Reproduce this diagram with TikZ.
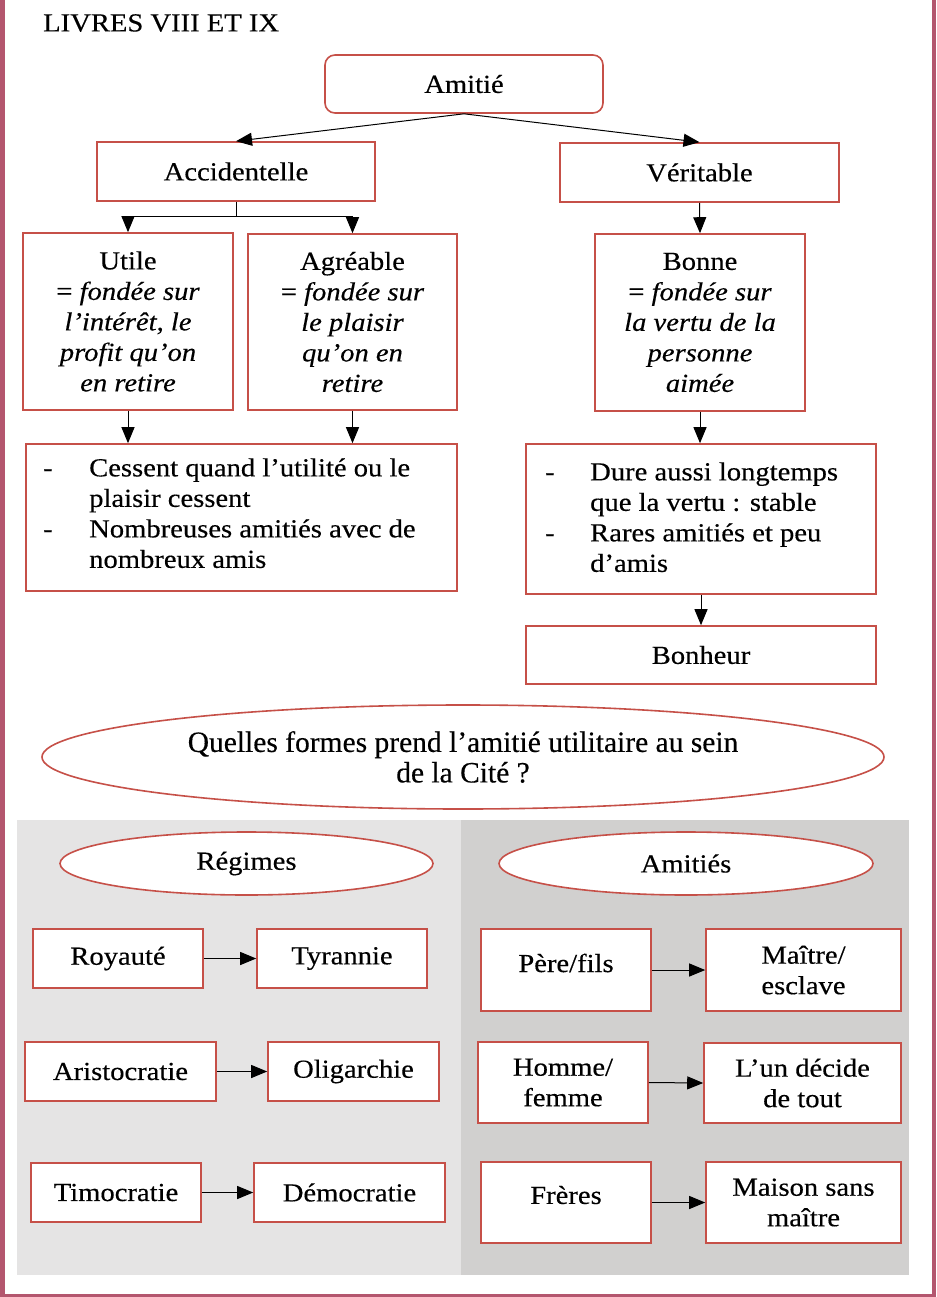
\documentclass[tikz,border=0pt]{standalone}
\usepackage{fontspec}
\setmainfont{Liberation Serif}[FakeStretch=1.1,FakeBold=0.35]
\newfontfamily\qfont{Liberation Serif}[FakeBold=0.35]
\usetikzlibrary{arrows.meta,shapes.geometric}
\definecolor{boxred}{RGB}{198,80,72}
\definecolor{framecol}{RGB}{180,86,110}
\definecolor{panelL}{RGB}{229,228,228}
\definecolor{panelR}{RGB}{209,208,207}
\begin{document}
\begin{tikzpicture}[x=1pt,y=-1pt,
  box/.style={draw=boxred,line width=1.6pt,fill=white,inner sep=0pt,align=center,font=\fontsize{26}{30.5}\selectfont},
  oval/.style={ellipse,draw=boxred,line width=1.6pt,fill=white,inner sep=0pt,align=center,font=\fontsize{26}{30.5}\selectfont},
  txt/.style={inner sep=0pt,align=center,font=\fontsize{26}{30.5}\selectfont},
  arr/.style={-{Triangle[length=16pt,width=13pt]},line width=1pt,black}]
\useasboundingbox (0,0) rectangle (936,1297);
\fill[white] (0,0) rectangle (936,1297);
% frame
\draw[framecol,line width=5pt] (2.5,0) -- (2.5,1297);
\draw[framecol,line width=3.5pt] (934.2,0) -- (934.2,1297);
\draw[framecol,line width=3pt] (0,1295.5) -- (936,1295.5);
% title
\node[txt,anchor=west] (title) at (43,23) {LIVRES VIII ET IX};
% top tree
\node[box,rounded corners=10pt,minimum width=278pt,minimum height=58pt] (amitie) at (464,84) {Amitié};
\node[box,minimum width=278pt,minimum height=59pt] (acc) at (236,171.5) {Accidentelle};
\node[box,minimum width=279pt,minimum height=59pt] (ver) at (699.5,172.5) {Véritable};
\node[box,minimum width=210pt,minimum height=177pt] (utile) at (128,321.5)
  {Utile\\= \textit{fondée sur}\\\textit{l’intérêt, le}\\\textit{profit qu’on}\\\textit{en retire}};
\node[box,minimum width=209pt,minimum height=176pt] (agr) at (352.5,322)
  {Agréable\\= \textit{fondée sur}\\\textit{le plaisir}\\\textit{qu’on en}\\\textit{retire}};
\node[box,minimum width=210pt,minimum height=177pt] (bonne) at (700,322.5)
  {Bonne\\= \textit{fondée sur}\\\textit{la vertu de la}\\\textit{personne}\\\textit{aimée}};
\node[box,minimum width=431pt,minimum height=147pt] (cess) at (241.5,517.5) {};
\node[txt,anchor=west,align=left] (cesst) at (43,516)
  {\begin{tabular}{@{}p{46pt}@{}l@{}}-&Cessent quand l’utilité ou le\\&plaisir cessent\\-&Nombreuses amitiés avec de\\&nombreux amis\end{tabular}};
\node[box,minimum width=350pt,minimum height=150pt] (dure) at (701,519) {};
\node[txt,anchor=west,align=left] (duret) at (545,520)
  {\begin{tabular}{@{}p{45pt}@{}l@{}}-&Dure aussi longtemps\\&que la vertu : stable\\-&Rares amitiés et peu\\&d’amis\end{tabular}};
\node[box,minimum width=350pt,minimum height=58pt] (bonheur) at (701,655) {Bonheur};
\draw[arr] (amitie.south) -- (acc.north);
\draw[arr] (amitie.south) -- (ver.north);
\draw[line width=1pt] (acc.south) -- ++(0,15) coordinate (accj);
\draw[arr] (accj) -| (utile.north);
\draw[arr] (accj) -| (agr.north);
\draw[arr] (utile.south) -- (utile.south |- cess.north);
\draw[arr] (agr.south) -- (agr.south |- cess.north);
\draw[arr] (ver.south) -- (bonne.north);
\draw[arr] (bonne.south) -- (bonne.south |- dure.north);
\draw[arr] (dure.south) -- (bonheur.north);
% question
\node[oval,minimum width=842pt,minimum height=104pt,font=\qfont\fontsize{29.5}{30.5}\selectfont] (quest) at (463,757)
  {Quelles formes prend l’amitié utilitaire au sein\\de la Cité ?};
% panels
\fill[panelL] (17,820) rectangle (461,1275);
\fill[panelR] (461,820) rectangle (909,1275);
\node[oval,minimum width=373pt,minimum height=63pt] (regimes) at (246.5,863.5) {Régimes};
\node[oval,minimum width=374pt,minimum height=63pt] (amities) at (686,863.5) {Amitiés};
% left boxes
\node[box,minimum width=170pt,minimum height=59pt] (roy) at (118,958.5) {Royauté};
\node[box,minimum width=170pt,minimum height=59pt] (tyr) at (342,958.5) {Tyrannie};
\node[box,minimum width=191pt,minimum height=59pt] (ari) at (120.5,1071.5) {Aristocratie};
\node[box,minimum width=171pt,minimum height=59pt] (oli) at (353.5,1071.5) {Oligarchie};
\node[box,minimum width=170pt,minimum height=59pt] (timo) at (116,1192.5) {Timocratie};
\node[box,minimum width=191pt,minimum height=59pt] (demo) at (349.5,1192.5) {Démocratie};
\draw[arr] (roy.east) -- (tyr.west);
\draw[arr] (ari.east) -- (oli.west);
\draw[arr] (timo.east) -- (demo.west);
% right boxes
\node[box,minimum width=170pt,minimum height=82pt] (pere) at (566,970) {};
\node[txt] (peret) at (566,963) {Père/fils};
\node[box,minimum width=195pt,minimum height=82pt] (maitre) at (803.5,970) {Maître/\\esclave};
\node[box,minimum width=170pt,minimum height=81pt] (homme) at (563,1082.5) {Homme/\\femme};
\node[box,minimum width=197pt,minimum height=80pt] (lun) at (802.5,1083) {L’un décide\\de tout};
\node[box,minimum width=170pt,minimum height=81pt] (freres) at (566,1202.5) {};
\node[txt] (frerest) at (566,1195) {Frères};
\node[box,minimum width=195pt,minimum height=81pt] (maison) at (803.5,1202.5) {Maison sans\\maître};
\draw[arr] (pere.east) -- (maitre.west);
\draw[arr] (homme.east) -- (lun.west);
\draw[arr] (freres.east) -- (maison.west);
\end{tikzpicture}
\end{document}
